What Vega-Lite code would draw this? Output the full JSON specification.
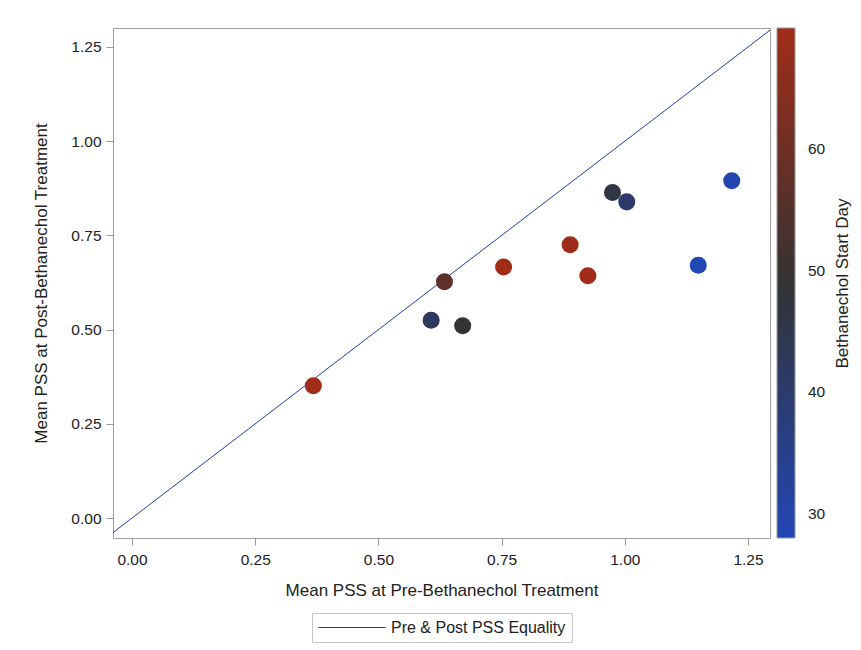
{
  "$schema": "https://vega.github.io/schema/vega-lite/v6.json",
  "width": 657,
  "height": 510,
  "autosize": {"type": "none"},
  "padding": {"left": 113, "top": 28, "right": 91, "bottom": 112},
  "background": "white",
  "config": {
    "font": "Liberation Sans",
    "view": {"stroke": "#a0a0a0", "strokeWidth": 1},
    "axis": {
      "labelFont": "Liberation Sans",
      "titleFont": "Liberation Sans",
      "labelFontSize": 15.5,
      "titleFontSize": 17,
      "titleFontWeight": "normal",
      "labelColor": "#222",
      "titleColor": "#222",
      "tickColor": "#999",
      "tickSize": 7,
      "domain": false,
      "grid": false
    },
    "legend": {
      "labelFont": "Liberation Sans",
      "titleFont": "Liberation Sans",
      "labelFontSize": 15.5,
      "titleFontSize": 17,
      "titleFontWeight": "normal",
      "labelColor": "#222",
      "titleColor": "#222"
    }
  },
  "layer": [
    {
      "data": {
        "values": [
          {"x": -0.2, "y": -0.2, "series": "Pre & Post PSS Equality"},
          {"x": 1.5, "y": 1.5, "series": "Pre & Post PSS Equality"}
        ]
      },
      "mark": {"type": "line", "strokeWidth": 1, "clip": true},
      "encoding": {
        "x": {"field": "x", "type": "quantitative"},
        "y": {
          "field": "y",
          "type": "quantitative",
          "scale": {"domain": [-0.053, 1.3004], "nice": false, "zero": false},
          "axis": {
            "orient": "right",
            "title": "Bethanechol Start Day",
            "titleAngle": 270,
            "titlePadding": 81,
            "labels": false,
            "ticks": false,
            "domain": false,
            "grid": false
          }
        },
        "stroke": {
          "field": "series",
          "type": "nominal",
          "scale": {"range": ["#1f3fa6"]},
          "legend": {
            "title": null,
            "orient": "none",
            "legendX": 199,
            "legendY": 585,
            "strokeColor": "#c8c8c8",
            "padding": 6,
            "symbolType": "M-1,0H7.4",
            "symbolSize": 256,
            "symbolStrokeWidth": 1,
            "symbolFillColor": "transparent",
            "labelOffset": 56,
            "labelLimit": 400,
            "labelFontSize": 16
          }
        }
      }
    },
    {
      "data": {
        "values": [
          {"pre": 0.368, "post": 0.351, "day": 70},
          {"pre": 0.634, "post": 0.627, "day": 57},
          {"pre": 0.607, "post": 0.525, "day": 42},
          {"pre": 0.671, "post": 0.510, "day": 49},
          {"pre": 0.754, "post": 0.666, "day": 70},
          {"pre": 0.889, "post": 0.725, "day": 69},
          {"pre": 0.925, "post": 0.643, "day": 70},
          {"pre": 0.975, "post": 0.864, "day": 46},
          {"pre": 1.004, "post": 0.839, "day": 40},
          {"pre": 1.149, "post": 0.671, "day": 28},
          {"pre": 1.217, "post": 0.895, "day": 29}
        ]
      },
      "mark": {"type": "circle", "size": 290, "opacity": 1},
      "encoding": {
        "x": {"field": "pre", "type": "quantitative"},
        "y": {
          "field": "post",
          "type": "quantitative",
          "scale": {"domain": [-0.053, 1.3004], "nice": false, "zero": false},
          "axis": {
            "title": "Mean PSS at Post-Bethanechol Treatment",
            "values": [0, 0.25, 0.5, 0.75, 1, 1.25],
            "format": ".2f",
            "labelPadding": 5,
            "titlePadding": 20
          }
        },
        "fill": {
          "field": "day",
          "type": "quantitative",
          "scale": {
            "domain": [28, 49, 70],
            "range": ["#2246b6", "#333333", "#a22c18"],
            "interpolate": "rgb"
          },
          "legend": {
            "title": null,
            "orient": "none",
            "legendX": 664,
            "legendY": 0,
            "gradientLength": 510,
            "gradientThickness": 18,
            "gradientStrokeColor": "#999",
            "gradientStrokeWidth": 1,
            "values": [30, 40, 50, 60],
            "labelOffset": 13,
            "padding": 0
          }
        }
      }
    }
  ],
  "resolve": {"scale": {"x": "shared", "y": "shared"}, "axis": {"y": "independent"}},
  "encoding": {
    "x": {
      "field": "pre",
      "type": "quantitative",
      "scale": {"domain": [-0.0386, 1.2946], "nice": false, "zero": false},
      "axis": {
        "title": "Mean PSS at Pre-Bethanechol Treatment",
        "values": [0, 0.25, 0.5, 0.75, 1, 1.25],
        "format": ".2f",
        "labelPadding": 7,
        "titlePadding": 15
      }
    }
  }
}
